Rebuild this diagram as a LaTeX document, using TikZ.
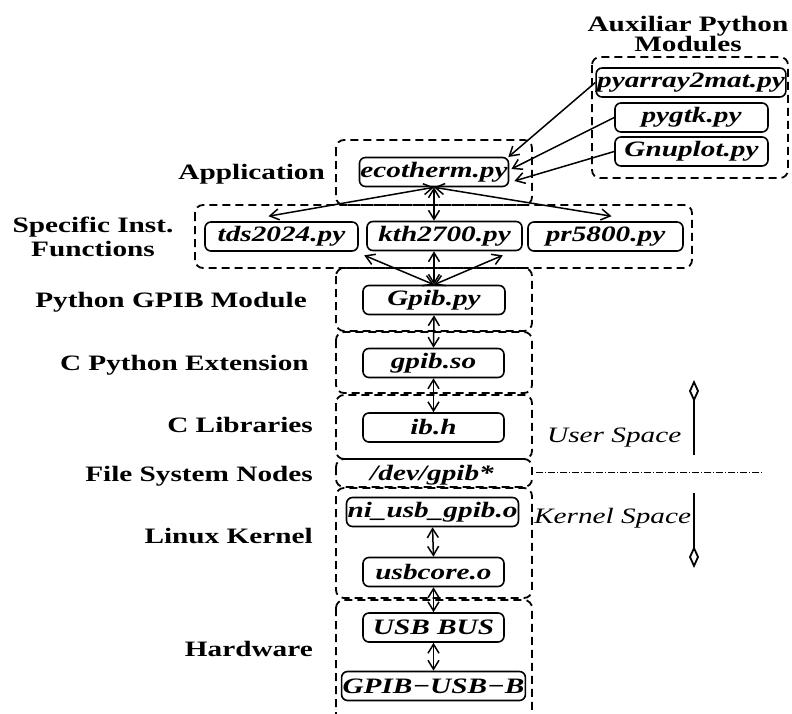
\documentclass[tikz,border=0pt]{standalone}
\usepackage{fontspec}
\setmainfont{Liberation Serif}[FakeStretch=1.33]
\usetikzlibrary{arrows.meta,calc}

\begin{document}
\begin{tikzpicture}[x=1pt,y=-1pt,
  group/.style={draw, line width=1.8pt, dash pattern=on 8pt off 5pt, rounded corners=8pt},
  mod/.style={draw, line width=1.6pt, rounded corners=6pt, minimum height=29pt,
    inner xsep=1pt, inner ysep=0pt, font=\fontsize{22}{24}\selectfont\bfseries\itshape},
  lbl/.style={anchor=base east, inner sep=0pt, font=\fontsize{22}{24}\selectfont\bfseries},
  ttl/.style={anchor=base, inner sep=0pt, font=\fontsize{22}{24}\selectfont\bfseries},
  space/.style={anchor=base west, inner sep=0pt, font=\fontsize{22}{24}\selectfont\itshape},
  tip/.tip={Straight Barb[length=9pt,width=11pt]},
  link/.style={line width=1.5pt, tip-tip},
  feed/.style={line width=1.5pt, -tip},
  bound/.style={line width=1.8pt, -{Diamond[open,length=22pt,width=10pt]}},
]
\useasboundingbox (0,0) rectangle (792,713);

% layer frames
\draw[group] (592,57) rectangle (788,178);
\draw[group] (336,140) rectangle (532,205);
\draw[group] (195,205) rectangle (692,268);
\draw[group] (336,268) rectangle (532,331);
\draw[group] (336,332) rectangle (532,393);
\draw[group] (336,395) rectangle (532,459);
\draw[group] (336,459) rectangle (532,487);
\draw[group] (336,488) rectangle (532,598);
\draw[group] (336,600) rectangle (532,740);

% layer names
\node[ttl] at (688,31) {Auxiliar Python};
\node[ttl] at (688,51) {Modules};
\node[lbl] at (325,179) {Application};
\node[ttl] at (93,232) {Specific Inst.};
\node[ttl] at (93,256) {Functions};
\node[lbl] at (307,307) {Python GPIB Module};
\node[lbl] at (309,370) {C Python Extension};
\node[lbl] at (313,432) {C Libraries};
\node[lbl] at (313,481) {File System Nodes};
\node[lbl] at (313,543) {Linux Kernel};
\node[lbl] at (313,656) {Hardware};

% modules
\node[mod, minimum width=188pt] (pyarray) at (691,82.5) {pyarray2mat.py};
\node[mod, minimum width=153pt] (pygtk) at (691.5,117.5) {pygtk.py};
\node[mod, minimum width=153pt] (gnuplot) at (691.5,151.5) {Gnuplot.py};
\node[mod, minimum width=148pt] (eco) at (434,172) {ecotherm.py};
\node[mod, minimum width=153pt] (tds) at (281.5,236.5) {tds2024.py};
\node[mod, minimum width=155pt] (kth) at (444.5,236) {kth2700.py};
\node[mod, minimum width=155pt] (pr) at (605.5,236.5) {pr5800.py};
\node[mod, minimum width=142pt] (gpibpy) at (434,300) {Gpib.py};
\node[mod, minimum width=141pt] (gpibso) at (433.5,363) {gpib.so};
\node[mod, minimum width=141pt] (ibh) at (433.5,427.5) {ib.h};
\node[inner sep=0pt, anchor=base, font=\fontsize{22}{24}\selectfont\bfseries\itshape] (dev) at (432,480) {/dev/gpib*};
\node[mod, minimum width=171pt] (ni) at (432.5,512) {ni\_usb\_gpib.o};
\node[mod, minimum width=141pt] (usbcore) at (433.5,572) {usbcore.o};
\node[mod, minimum width=141pt] (usbbus) at (433.5,627.5) {USB BUS};
\node[mod, minimum width=183pt] (gpibusb) at (433.5,686) {GPIB−USB−B};

% auxiliary modules feeding the application
\draw[feed] (pyarray.west) -- ($(eco.east)+(-1,-15)$);
\draw[feed] (pygtk.west) -- ($(eco.east)+(2,-3)$);
\draw[feed] (gnuplot.west) -- ($(eco.east)+(5,9)$);

% application to instrument functions
\draw[link] (eco.south) -- ($(tds.north)+(-13,-5)$);
\draw[link] (eco.south) -- ($(pr.north)+(6,-5)$);
\draw[link] (eco.south) -- (eco.south |- kth.north);

% instrument functions to the GPIB module
\draw[link] (gpibpy.north) -- ($(kth.south west)+(-2,4)$);
\draw[link] (gpibpy.north) -- ($(kth.south east)+(-20,4)$);
\draw[link] (gpibpy.north) -- (gpibpy.north |- kth.south);

% down the stack
\draw[link] (gpibpy.south) -- (gpibso.north);
\draw[link] (gpibso.south) -- (ibh.north);
\draw[link] (ni.south) -- (usbcore.north);
\draw[link] (usbcore.south) -- (usbbus.north);
\draw[link] (usbbus.south) -- (gpibusb.north);

% user / kernel boundary
\coordinate (sepL) at (536,472);
\coordinate (sepR) at (763,472);
\draw[line width=1pt, dash pattern=on 7pt off 2pt on 1pt off 2pt] (sepL) -- (sepR);
\node[space] (user) at (547,442) {User Space};
\node[space] (kernel) at (534,523) {Kernel Space};
\coordinate (upA) at (694,455);
\coordinate (upB) at (694,380);
\coordinate (dnA) at (694,493);
\coordinate (dnB) at (694,568);
\draw[bound] (upA) -- (upB);
\draw[bound] (dnA) -- (dnB);
\end{tikzpicture}
\end{document}
